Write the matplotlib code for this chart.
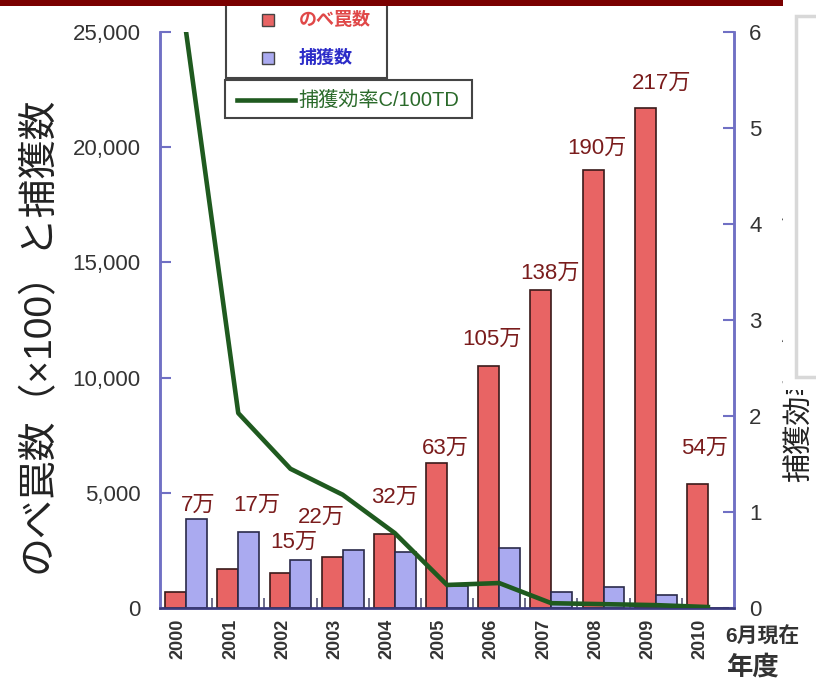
import numpy as np
import matplotlib
matplotlib.use('Agg')
import matplotlib.pyplot as plt
from matplotlib.patches import Rectangle
from matplotlib.lines import Line2D

plt.rcParams['font.family'] = ['Liberation Sans', 'Noto Sans CJK JP', 'DejaVu Sans']

# 年度ごとのデータ
years = ['2000', '2001', '2002', '2003', '2004', '2005',
         '2006', '2007', '2008', '2009', '2010']
traps_man = [7, 17, 15, 22, 32, 63, 105, 138, 190, 217, 54]   # のべ罠数（万）
captures = [3850, 3300, 2100, 2500, 2450, 950, 2600, 700, 900, 550, 0]
efficiency = [6.0, 2.03, 1.45, 1.18, 0.78, 0.24, 0.26, 0.05, 0.04, 0.03, 0.01]

# 万ラベルの置き場所（データ座標）
label_x = [0.23, 1.35, 2.06, 2.6, 4.0, 4.96, 5.86, 6.97, 7.87, 9.12, 9.94]
label_y = [4470, 4470, 2865, 3950, 4820, 6950, 11650, 14540, 19960, 22790, 6945]

traps = [v * 100 for v in traps_man]   # ×100 単位
x = np.arange(len(years))

W, H = 816, 683
fig = plt.figure(figsize=(W / 100, H / 100), dpi=100)
ax = fig.add_axes([160 / W, 1 - 608 / H, 574 / W, 576 / H])
ax2 = ax.twinx()

axis_col = '#7070c4'
red = '#e86464'
blue = '#aaaaf0'
green = '#1f5a1f'
label_red = '#7a1c1c'

ax.bar(x - 0.2, traps, width=0.4, color=red, edgecolor='#3a1a1a', linewidth=1.2, zorder=2)
ax.bar(x + 0.2, captures, width=0.4, color=blue, edgecolor='#2a2a4a', linewidth=1.2, zorder=2)

for i, v in enumerate(traps_man):
    ax.text(label_x[i], label_y[i], f'{v}万', color=label_red, fontsize=16,
            ha='center', va='center', zorder=4)

# 捕獲効率は右軸の目盛りで、棒の上に重ねて描く
ax.set_zorder(ax2.get_zorder() + 1)
ax.patch.set_visible(False)
ax2.set_ylim(0, 6)
ax.set_ylim(0, 25000)
eff_line = ax.plot(x, efficiency, color=green, linewidth=3.3, zorder=3,
                   solid_joinstyle='round')[0]
eff_line.set_transform(ax2.transData)

ax.set_xlim(-0.5, 10.5)
ax2.set_xlim(-0.5, 10.5)

ax.set_yticks(range(0, 25001, 5000))
ax.set_yticklabels([f'{v:,}' for v in range(0, 25001, 5000)])
ax2.set_yticks(range(0, 7))

ax.set_xticks(x - 0.15)
ax.set_xticklabels(years, rotation=90, fontsize=13, fontweight='bold', color='#333333')
ax.set_xticks(np.arange(0.5, 10.5, 1), minor=True)
ax.tick_params(axis='x', which='major', length=0, pad=8)
ax.tick_params(axis='x', which='minor', direction='in', length=7, width=1.2, color='#555577')

ax.tick_params(axis='y', direction='in', length=8, width=1.5, color=axis_col,
               labelsize=16, pad=14, labelcolor='#333333')
ax2.tick_params(axis='y', direction='in', length=8, width=1.5, color=axis_col,
                labelsize=16, pad=11, labelcolor='#333333')

for a in (ax, ax2):
    a.spines['top'].set_visible(False)
    for s in ('left', 'right', 'bottom'):
        a.spines[s].set_color(axis_col)
        a.spines[s].set_linewidth(1.8)
ax.spines['bottom'].set_color('#3a3a7a')

fig.text(38 / W, 1 - 335 / H, 'のべ罠数（×100）と捕獲数', rotation=90,
         ha='center', va='center', fontsize=28, color='#222222')
fig.text(799 / W, 1 - 482 / H, '捕獲効率（C/100TD）', rotation=90,
         ha='center', va='bottom', fontsize=21, color='#222222', zorder=3)
fig.text(762 / W, 1 - 637 / H, '6月現在', ha='center', va='center',
         fontsize=15, fontweight='bold', color='#333333')
fig.text(753 / W, 1 - 667 / H, '年度', ha='center', va='center',
         fontsize=19, fontweight='bold', color='#333333')


def px_rect(x0, y0, x1, y1, **kw):
    return Rectangle((x0 / W, 1 - y1 / H), (x1 - x0) / W, (y1 - y0) / H,
                     transform=fig.transFigure, **kw)


# 凡例（2つの枠）
fig.add_artist(px_rect(226, -5, 387, 78, facecolor='white', edgecolor='#444444',
                       linewidth=1.5, zorder=5))
fig.add_artist(px_rect(262, 14, 274, 26, facecolor=red, edgecolor='#444444',
                       linewidth=1, zorder=6))
fig.add_artist(px_rect(262, 52, 274, 64, facecolor=blue, edgecolor='#444444',
                       linewidth=1, zorder=6))
fig.text(299 / W, 1 - 20 / H, 'のべ罠数', color='#e04848', fontsize=13,
         fontweight='bold', ha='left', va='center', zorder=7)
fig.text(299 / W, 1 - 58 / H, '捕獲数', color='#2c2cc8', fontsize=13,
         fontweight='bold', ha='left', va='center', zorder=7)

fig.add_artist(px_rect(225, 80, 472, 118, facecolor='white', edgecolor='#444444',
                       linewidth=1.5, zorder=5))
fig.add_artist(Line2D([237 / W, 295 / W], [1 - 100 / H, 1 - 100 / H], color=green,
                      linewidth=3.3, transform=fig.transFigure, zorder=6))
fig.text(298 / W, 1 - 100 / H, '捕獲効率C/100TD', color='#2a6a2a',
         fontsize=14.5, ha='left', va='center', zorder=7)

# 上端の帯と右側の枠
fig.add_artist(px_rect(0, 0, 783, 6, facecolor='#7a0000', edgecolor='none', zorder=8))
fig.add_artist(px_rect(783, 8, 830, 390, facecolor='white', edgecolor='none', zorder=8))
fig.add_artist(px_rect(796, 16, 840, 377, facecolor='white', edgecolor='#d8d8d8',
                       linewidth=2.5, zorder=9))

fig.savefig('out.png', dpi=100)
